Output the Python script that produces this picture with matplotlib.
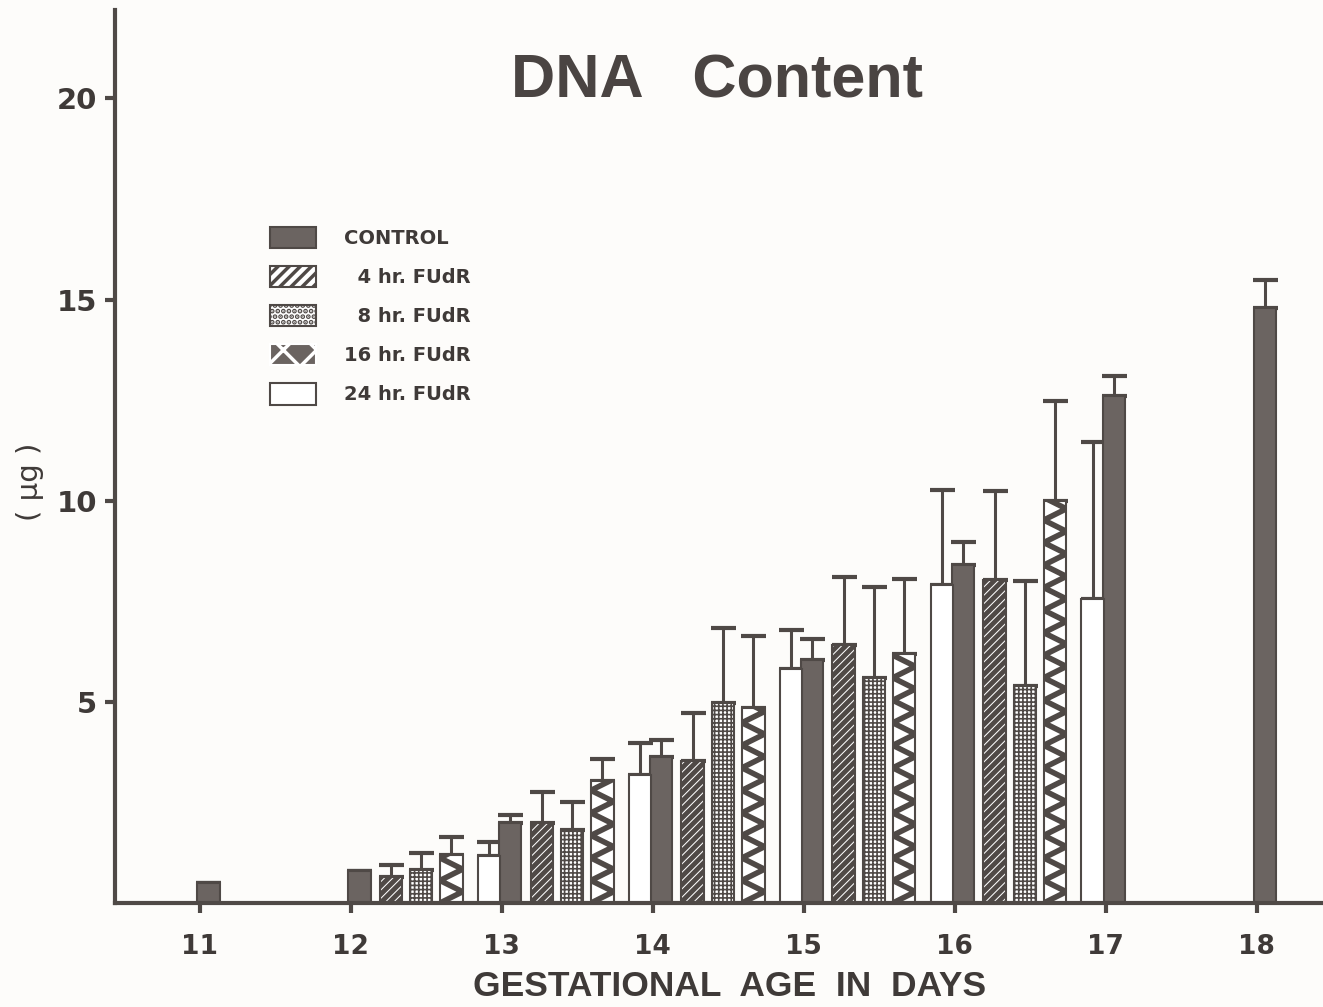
import matplotlib
matplotlib.use("Agg")
import matplotlib.pyplot as plt
from matplotlib.patches import Patch
import numpy as np

# DNA content (ug)
control_days = [11, 12, 13, 14, 15, 16, 17, 18]
control = [0.5, 0.8, 2.0, 3.64, 6.03, 8.4, 12.6, 14.8]
control_err = [0, 0, 0.2, 0.4, 0.53, 0.58, 0.5, 0.7]

fudr_days = [12, 13, 14, 15, 16]
fudr4 = [0.65, 2.0, 3.54, 6.41, 8.03]
fudr4_err = [0.3, 0.77, 1.19, 1.69, 2.22]
fudr8 = [0.82, 1.82, 4.98, 5.6, 5.4]
fudr8_err = [0.43, 0.7, 1.85, 2.25, 2.6]
fudr16 = [1.2, 3.04, 4.84, 6.2, 10.0]
fudr16_err = [0.45, 0.53, 1.79, 1.85, 2.47]
fudr24 = [1.17, 3.19, 5.81, 7.9, 7.55]
fudr24_err = [0.35, 0.8, 0.97, 2.37, 3.92]

labels = ["CONTROL", "  4 hr. FUdR", "  8 hr. FUdR", "16 hr. FUdR", "24 hr. FUdR"]

dark = "#6b6461"
ink = "#4f4946"
bg = "#fdfcfa"
w = 0.15

fig = plt.figure(figsize=(13.23, 10.07), dpi=100, facecolor=bg)
ax = fig.add_axes([115 / 1323, 104 / 1007, 1 - 115 / 1323, 893 / 1007])
ax.set_facecolor(bg)


def draw(days, offset, vals, errs, face, hatch=None, hlw=1.0):
    x = np.array(days) + offset
    with plt.rc_context({"hatch.linewidth": hlw}):
        bars = ax.bar(x, vals, width=w, align="edge", color=face,
                      edgecolor=ink, linewidth=1.5, hatch=hatch, zorder=2)
    for b in bars:
        if hasattr(b, "set_hatch_linewidth"):
            b.set_hatch_linewidth(hlw)
    errs = np.array(errs)
    ax.errorbar(x + w / 2, vals, yerr=[np.zeros_like(errs), errs], fmt="none",
                ecolor=ink, elinewidth=2.2, capsize=9, capthick=3, zorder=1)
    return bars


draw(control_days, -0.02, control, control_err, dark)
draw(fudr_days, 0.19, fudr4, fudr4_err, "white", "////", 3.5)
draw(fudr_days, 0.39, fudr8, fudr8_err, "white", "++++", 1.2)
zz = draw(fudr_days, 0.59, fudr16, fudr16_err, "white")
draw(fudr_days, 0.84, fudr24, fudr24_err, "white")

# zigzag fill of the 16 hr bars
for b in zz:
    x0, x1 = b.get_x(), b.get_x() + b.get_width()
    h = b.get_height()
    ys = np.arange(0, h + 0.3, 0.28)
    xs = np.where(np.arange(len(ys)) % 2 == 0, x0, x1)
    ln, = ax.plot(xs, ys, color=ink, lw=4, zorder=3, solid_joinstyle="miter")
    ln.set_clip_path(b)

ax.set_xlim(10.437, 18.44)
ax.set_ylim(0, 22.2)
ax.set_xticks(control_days)
ax.set_yticks([5, 10, 15, 20])
for s in ["top", "right"]:
    ax.spines[s].set_visible(False)
for s in ["left", "bottom"]:
    ax.spines[s].set_linewidth(3)
    ax.spines[s].set_color(ink)
ax.tick_params(axis="both", direction="out", length=7, width=3, color=ink)
ax.tick_params(axis="x", labelsize=19, pad=15)
ax.tick_params(axis="y", labelsize=21, pad=6)
for t in ax.get_xticklabels() + ax.get_yticklabels():
    t.set_fontweight("bold")
    t.set_color("#3f3a38")

ax.set_xlabel("GESTATIONAL  AGE  IN  DAYS", fontsize=25.5, fontweight="bold",
              family="Liberation Sans", color="#3f3a38", labelpad=6)
ax.xaxis.set_label_coords(0.509, -0.075)
fig.text(30 / 1323, 1 - 482 / 1007, "( µg )", rotation=90, fontsize=21,
         ha="center", va="center", color="#3f3a38")
fig.text(717 / 1323, 1 - 97 / 1007, "DNA   Content", fontsize=44,
         fontweight="bold", family="Liberation Sans", ha="center",
         va="baseline", color="#4a4442")

handles = [Patch(facecolor=dark, edgecolor=ink, lw=1.5),
           Patch(facecolor="white", edgecolor=ink, hatch="///", lw=1.5),
           Patch(facecolor="white", edgecolor=ink, hatch="...", lw=1.5),
           Patch(facecolor=dark, edgecolor="white", hatch="x", lw=1.5),
           Patch(facecolor="white", edgecolor=ink, lw=1.5)]
with plt.rc_context({"hatch.linewidth": 2.5}):
    leg = ax.legend(handles, labels, loc="upper left",
                    bbox_to_anchor=(0.128, 0.757),
                    frameon=False, borderpad=0, borderaxespad=0,
                    handlelength=2.4, handleheight=1.3, labelspacing=0.92,
                    handletextpad=1.4, prop={"weight": "bold", "size": 14})
for t in leg.get_texts():
    t.set_color("#3f3a38")

fig.savefig("out.png", dpi=100, facecolor=bg)
